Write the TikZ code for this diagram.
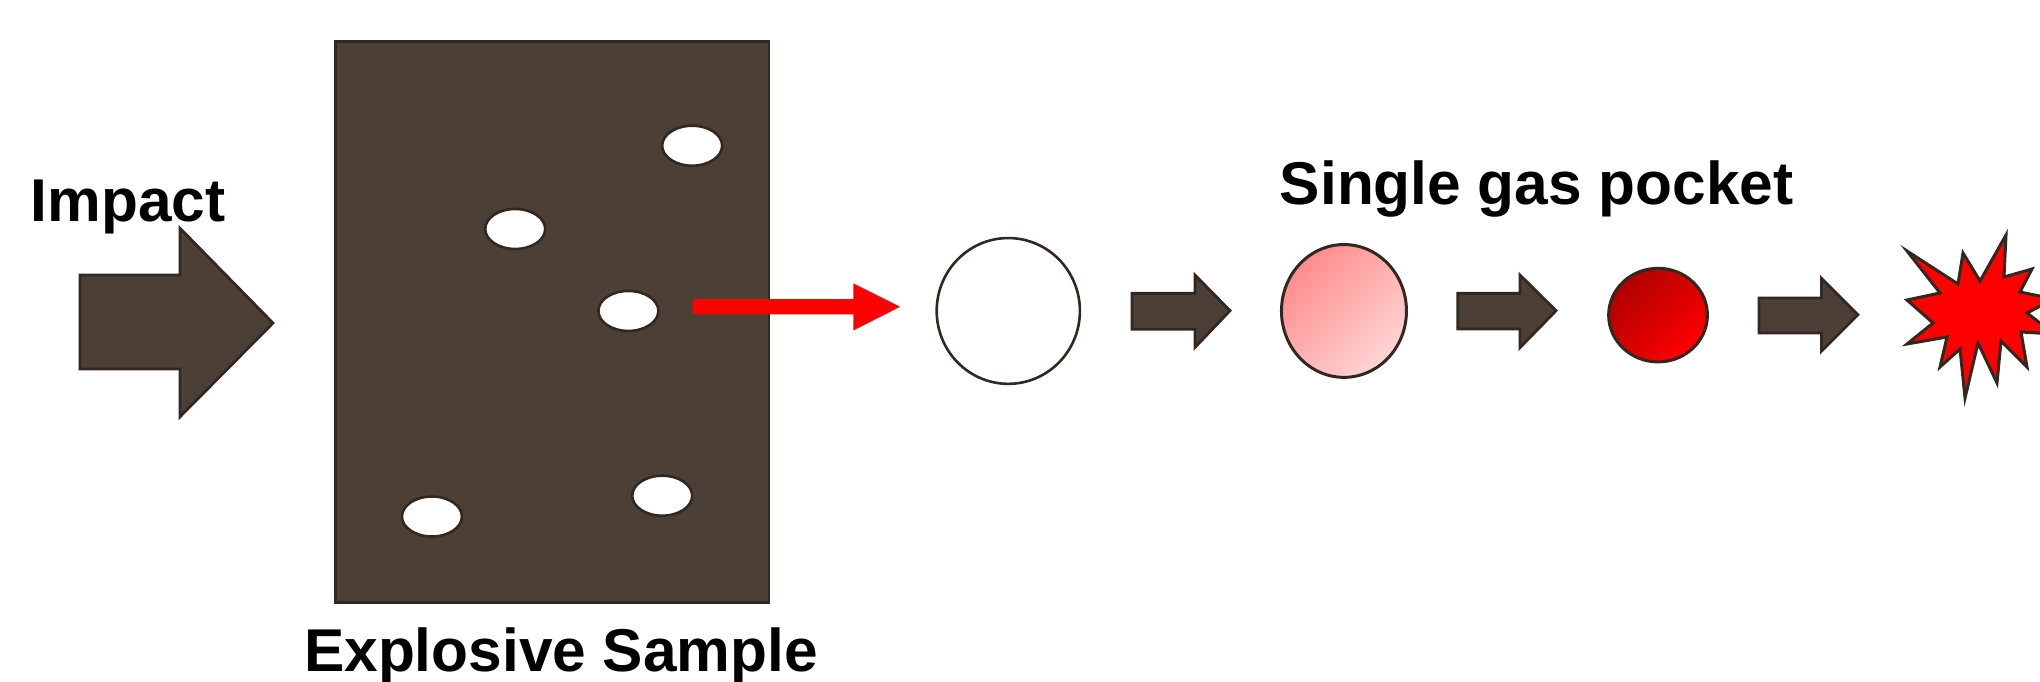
\documentclass[tikz,border=0pt]{standalone}
\usepackage{fontspec}
\setmainfont{Liberation Sans}
\usetikzlibrary{shapes.geometric}
\definecolor{brownfill}{HTML}{4B3F36}
\definecolor{brownline}{HTML}{33281F}
\definecolor{pinkA}{HTML}{FF8C8C}
\definecolor{pinkB}{HTML}{FFD4D4}
\definecolor{redA}{HTML}{B00000}
\definecolor{redB}{HTML}{FF0000}
\tikzset{
  blockarrow/.style={fill=brownfill, draw=brownline, line width=1.4pt, line join=miter},
  hole/.style={ellipse, fill=white, draw=brownline, line width=1.3pt, minimum width=30pt, minimum height=20pt, inner sep=0pt},
  txt/.style={font=\bfseries\fontsize{30.2pt}{36pt}\selectfont, anchor=base west, inner sep=0pt}
}
\begin{document}
\begin{tikzpicture}[x=0.65051pt, y=-0.65051pt]
\useasboundingbox (0,0) rectangle (1568,523.5);
% labels
\node[txt] (impact) at (23.5,170) {Impact};
\node[txt] (explo) at (233.5,516) {Explosive Sample};
\node[txt] (single) at (983.5,157) {Single gas pocket};
% impact arrow
\draw[blockarrow] (61.5,211.4) -- (138.4,211.4) -- (138.4,175.5) -- (209.8,248.3) -- (138.4,320.3) -- (138.4,283.6) -- (61.5,283.6) -- cycle;
% sample
\node[draw=brownline, fill=brownfill, line width=1.2pt, minimum width=216.6pt, minimum height=280.4pt, inner sep=0pt] (sample) at (424.5,247.5) {};
% holes
\node[hole] (h1) at (532,112) {};
\node[hole] (h2) at (396,176) {};
\node[hole] (h3) at (483,239) {};
\node[hole] (h4) at (332,397) {};
\node[hole] (h5) at (509,381) {};
% red arrow
\fill[red] (532.4,230) -- (655.9,230) -- (655.9,217.8) -- (691.8,235.8) -- (655.9,254) -- (655.9,241.6) -- (532.4,241.6) -- cycle;
% white circle
\node[ellipse, draw=brownline, fill=white, line width=1.3pt, minimum width=71.6pt, minimum height=72.9pt, inner sep=0pt] (c1) at (775,239) {};
% arrow 2
\draw[blockarrow] (870,225.5) -- (918.5,225.5) -- (918.5,211.4) -- (945.4,238.8) -- (918.5,267) -- (918.5,253) -- (870,253) -- cycle;
% pink circle
\node[ellipse, draw=brownline, line width=1.5pt, top color=pinkA, bottom color=pinkB, shading angle=45, minimum width=62.5pt, minimum height=66.4pt, inner sep=0pt] (c2) at (1033,239) {};
% arrow 3
\draw[blockarrow] (1120.4,225.5) -- (1168.3,225.5) -- (1168.3,211.4) -- (1196,238.8) -- (1168.3,267.2) -- (1168.3,252.9) -- (1120.4,252.9) -- cycle;
% red circle
\node[ellipse, draw=brownline, line width=1.5pt, top color=redA, bottom color=redB, shading angle=45, minimum width=49.4pt, minimum height=46.8pt, inner sep=0pt] (c3) at (1274.4,242.2) {};
% arrow 4
\draw[blockarrow] (1352,229) -- (1400,229) -- (1400,214) -- (1428,242) -- (1400,270) -- (1400,256) -- (1352,256) -- cycle;
% explosion (original pixel coordinates)
\begin{scope}[x=0.5pt, y=-0.5pt]
\clip (0,0) rectangle (2040,681);
\draw[fill=red, draw=brownline, line width=1.5pt, line join=miter]
 (1907,251) -- (1958,284) -- (1963,253) -- (1980,281) -- (2006,235) -- (2004,277)
 -- (2032,269) -- (2020,292) -- (2054,299) -- (2027,313) -- (2054,334) -- (2021,332)
 -- (2027,367) -- (2001,341) -- (1997,383) -- (1978,343) -- (1965,398) -- (1960,349)
 -- (1940,367) -- (1947,337) -- (1907,344) -- (1933,323) -- (1907,300) -- (1940,293) -- cycle;
\end{scope}
\end{tikzpicture}
\end{document}
